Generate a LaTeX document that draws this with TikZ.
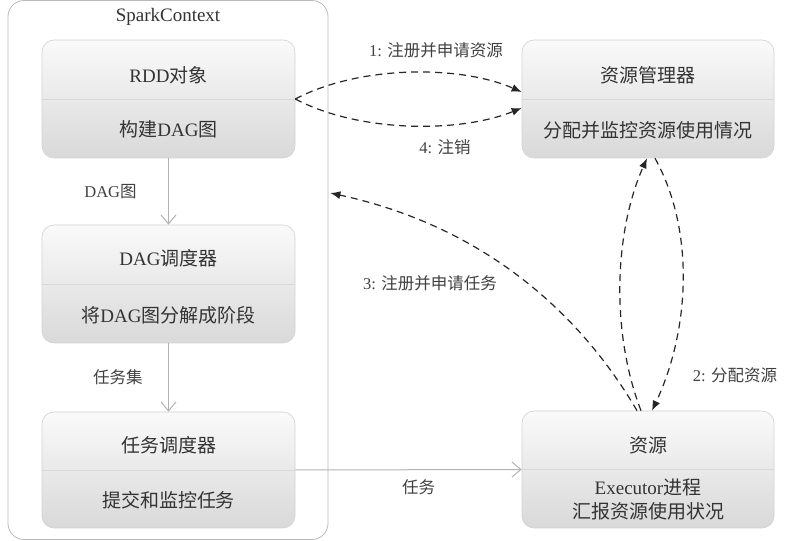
\documentclass[tikz,border=0pt]{standalone}
\usepackage{fontspec}
\setmainfont{Liberation Serif}
\newfontfamily\cjk{Noto Sans CJK SC}
\newcommand{\zh}[1]{{\cjk #1}}
\usetikzlibrary{positioning, arrows.meta, calc}

\begin{document}
\begin{tikzpicture}[
    x=1pt, y=1pt,
    block/.style={
        rectangle,
        draw=gray!35,
        line width=0.6pt,
        minimum width=253pt,
        minimum height=118pt,
        rounded corners=12pt,
        top color=gray!4,
        bottom color=gray!30
    },
    container/.style={
        rectangle,
        draw=gray!55,
        line width=0.8pt,
        minimum width=320pt,
        minimum height=539pt,
        rounded corners=16pt
    },
    divider/.style={draw=gray!30, line width=0.6pt},
    flow/.style={-{Straight Barb[length=9pt, width=15pt]}, draw=gray!60, line width=1pt},
    signal/.style={-{Latex[length=10pt, width=8pt]}, draw=black!85, line width=1.2pt, dash pattern=on 7pt off 5pt},
    boxtext/.style={font=\fontsize{19}{24}\selectfont, text=black!80, align=center},
    edgetext/.style={font=\fontsize{16.5}{18}\selectfont, text=black!75}
]
\useasboundingbox (0,0) rectangle (788,541);

% SparkContext
\node[container] (spark) at (168,271) {};
\node[boxtext] (title) at (168,524) {SparkContext};

% Driver side
\node[block] (rdd) at (168.5,442) {};
\draw[divider] (rdd.west) -- (rdd.east);
\node[boxtext] at ([yshift=24pt]rdd.center) {RDD\zh{对象}};
\node[boxtext] at ([yshift=-30pt]rdd.center) {\zh{构建}DAG\zh{图}};

\node[block] (dag) at (168.5,257) {};
\draw[divider] (dag.west) -- (dag.east);
\node[boxtext] at ([yshift=26pt]dag.center) {DAG\zh{调度器}};
\node[boxtext] at ([yshift=-31pt]dag.center) {\zh{将}DAG\zh{图分解成阶段}};

\node[block, minimum height=116pt] (task) at (168.5,71) {};
\draw[divider] (task.west) -- (task.east);
\node[boxtext] at ([yshift=25pt]task.center) {\zh{任务调度器}};
\node[boxtext] at ([yshift=-30pt]task.center) {\zh{提交和监控任务}};

% Cluster side
\node[block, minimum width=252pt] (mgr) at (648,442) {};
\draw[divider] (mgr.west) -- (mgr.east);
\node[boxtext] at ([yshift=24pt]mgr.center) {\zh{资源管理器}};
\node[boxtext] at ([yshift=-31pt]mgr.center) {\zh{分配并监控资源使用情况}};

\node[block, minimum width=252pt, minimum height=117pt] (res) at (648,71.5) {};
\draw[divider] (res.west) -- (res.east);
\node[boxtext] at ([yshift=24pt]res.center) {\zh{资源}};
\node[boxtext] at ([yshift=-30pt]res.center) {Executor\zh{进程}\\\zh{汇报资源使用状况}};

% Solid flows
\draw[flow] (rdd.south) -- (dag.north)
    node[midway, left=28pt, edgetext] {DAG\zh{图}};
\draw[flow] (dag.south) -- (task.north)
    node[midway, left=22pt, edgetext] {\zh{任务集}};
\draw[flow] (task.east) -- (res.west)
    node[midway, below=6pt, xshift=10pt, edgetext] {\zh{任务}};

% Dashed signals
\draw[signal] (rdd.east) .. controls (360,476) and (460,476) .. ([yshift=7pt]mgr.west);
\draw[signal] (rdd.east) .. controls (360,408) and (460,408) .. ([yshift=-9pt]mgr.west);
\node[edgetext] at (436,491) {1: \zh{注册并申请资源}};
\node[edgetext] at (445,394) {4: \zh{注销}};

\draw[signal] ([xshift=-7pt]res.north) .. controls (610,211) and (615,311) .. ([xshift=-1pt]mgr.south);
\draw[signal] ([xshift=7pt]mgr.south) .. controls (695,311) and (690,211) .. ([xshift=4pt]res.north);
\node[edgetext] at (735,166) {2: \zh{分配资源}};

\coordinate (entry) at ([xshift=2pt, yshift=77pt]spark.east);
\draw[signal] ([xshift=-11pt]res.north) .. controls (590,211) and (500,311) .. (entry);
\node[edgetext] at (430,258) {3: \zh{注册并申请任务}};

\end{tikzpicture}
\end{document}
